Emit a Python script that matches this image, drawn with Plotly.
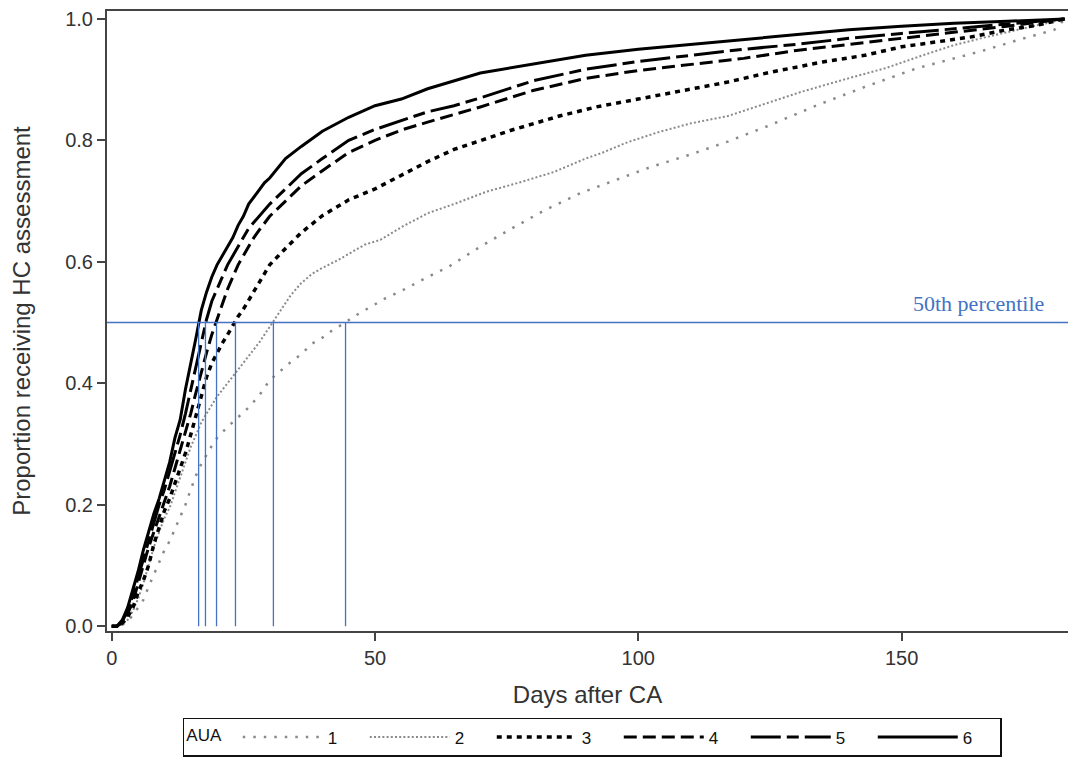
import plotly.graph_objects as go

# Cumulative proportion receiving an HC assessment, by AUA group
days_1 = [0, 1, 2, 3, 4, 5, 6, 7, 8, 9, 10, 11, 12, 13, 14, 15, 16, 17, 18, 19, 20, 22, 24, 26, 28, 30,
          32, 34, 36, 38, 40, 42, 44, 46, 49, 52, 55, 60, 64, 70, 76, 82, 89, 95, 102, 110, 117, 125,
          134, 143, 153, 160, 166, 172, 179, 181]
aua_1 = [0.0, 0.0, 0.002, 0.008, 0.018, 0.03, 0.043, 0.065, 0.085, 0.105, 0.125, 0.14, 0.16, 0.18, 0.2,
         0.225, 0.248, 0.267, 0.283, 0.297, 0.31, 0.328, 0.344, 0.36, 0.38, 0.405, 0.42, 0.435, 0.448,
         0.465, 0.475, 0.488, 0.498, 0.51, 0.525, 0.54, 0.552, 0.575, 0.592, 0.625, 0.655, 0.684, 0.713,
         0.733, 0.755, 0.777, 0.798, 0.825, 0.858, 0.888, 0.919, 0.935, 0.949, 0.965, 0.982, 1.0]

days_2 = [0, 1, 2, 3, 4, 5, 6, 7, 8, 9, 10, 11, 12, 13, 14, 15, 16, 17, 18, 19, 20, 21, 22, 23, 24, 25,
          26, 27, 28, 29, 30, 31, 32, 34, 36, 38, 40, 43, 48, 51, 55, 60, 65, 71, 78, 84, 90, 93, 98,
          104, 110, 117, 124, 131, 139, 147, 154, 160, 166, 172, 177, 181]
aua_2 = [0.0, 0.0, 0.003, 0.01, 0.025, 0.045, 0.07, 0.1, 0.13, 0.155, 0.178, 0.195, 0.22, 0.245, 0.27,
         0.295, 0.315, 0.335, 0.35, 0.365, 0.378, 0.389, 0.4, 0.411, 0.422, 0.433, 0.444, 0.455, 0.467,
         0.48, 0.493, 0.505, 0.518, 0.545, 0.565, 0.58, 0.59, 0.603, 0.628, 0.636, 0.657, 0.68, 0.695,
         0.715, 0.732, 0.748, 0.77, 0.779, 0.797, 0.814, 0.828, 0.84, 0.86, 0.88, 0.9, 0.919, 0.94,
         0.957, 0.97, 0.982, 0.992, 1.0]

days_3 = [0, 1, 2, 3, 4, 5, 6, 7, 8, 9, 10, 11, 12, 13, 14, 15, 16, 17, 18, 19, 20, 21, 22, 23, 24, 25,
          26, 27, 28, 30, 33, 36, 40, 45, 50, 55, 60, 65, 70, 76, 85, 92, 100, 110, 117, 125, 135, 143,
          150, 163, 170, 176, 181]
aua_3 = [0.0, 0.0, 0.005, 0.015, 0.03, 0.055, 0.075, 0.1, 0.135, 0.165, 0.19, 0.21, 0.235, 0.26, 0.285,
         0.315, 0.345, 0.38, 0.41, 0.433, 0.45, 0.466, 0.48, 0.495, 0.51, 0.522, 0.537, 0.552, 0.567,
         0.595, 0.622, 0.648, 0.676, 0.702, 0.72, 0.743, 0.765, 0.785, 0.8, 0.817, 0.84, 0.855, 0.868,
         0.885, 0.896, 0.912, 0.929, 0.94, 0.954, 0.97, 0.982, 0.99, 1.0]

days_4 = [0, 1, 2, 3, 4, 5, 6, 7, 8, 9, 10, 11, 12, 13, 14, 15, 16, 17, 18, 19, 20, 21, 22, 23, 24, 25,
          26, 27, 28, 30, 33, 36, 40, 45, 50, 55, 60, 65, 70, 80, 90, 100, 110, 120, 130, 140, 150,
          160, 170, 181]
aua_4 = [0.0, 0.0, 0.006, 0.02, 0.04, 0.07, 0.1, 0.13, 0.155, 0.18, 0.205, 0.23, 0.26, 0.29, 0.32,
         0.35, 0.385, 0.42, 0.45, 0.48, 0.505, 0.53, 0.555, 0.575, 0.595, 0.61, 0.625, 0.64, 0.652,
         0.675, 0.7, 0.725, 0.75, 0.78, 0.8, 0.817, 0.83, 0.842, 0.855, 0.882, 0.902, 0.915, 0.925,
         0.935, 0.948, 0.958, 0.967, 0.978, 0.988, 1.0]

days_5 = [0, 1, 2, 3, 4, 5, 6, 7, 8, 9, 10, 11, 12, 13, 14, 15, 16, 17, 18, 19, 20, 21, 22, 23, 24, 25,
          26, 27, 28, 30, 33, 36, 40, 45, 50, 55, 60, 65, 70, 80, 90, 100, 110, 120, 130, 140, 150,
          160, 170, 181]
aua_5 = [0.0, 0.0, 0.008, 0.025, 0.05, 0.08, 0.11, 0.14, 0.17, 0.2, 0.225, 0.255, 0.285, 0.315, 0.35,
         0.39, 0.43, 0.47, 0.505, 0.535, 0.555, 0.575, 0.595, 0.61, 0.625, 0.64, 0.655, 0.665, 0.675,
         0.695, 0.72, 0.745, 0.77, 0.8, 0.818, 0.833, 0.847, 0.857, 0.87, 0.898, 0.917, 0.93, 0.94,
         0.95, 0.958, 0.968, 0.976, 0.984, 0.991, 1.0]

days_6 = [0, 1, 2, 3, 4, 5, 6, 7, 8, 9, 10, 11, 12, 13, 14, 15, 16, 17, 18, 19, 20, 21, 22, 23, 24, 25,
          26, 27, 28, 29, 30, 33, 36, 40, 45, 50, 55, 60, 70, 80, 90, 100, 110, 120, 130, 140, 150,
          160, 170, 181]
aua_6 = [0.0, 0.0, 0.01, 0.03, 0.06, 0.09, 0.125, 0.155, 0.185, 0.21, 0.24, 0.27, 0.31, 0.34, 0.39,
         0.43, 0.475, 0.52, 0.55, 0.575, 0.595, 0.61, 0.625, 0.64, 0.66, 0.675, 0.695, 0.707, 0.72,
         0.73, 0.738, 0.77, 0.79, 0.815, 0.838, 0.857, 0.868, 0.885, 0.911, 0.926, 0.94, 0.95, 0.958,
         0.966, 0.975, 0.982, 0.988, 0.993, 0.996, 1.0]

group_labels = ["1", "2", "3", "4", "5", "6"]
median_days = [44.4, 30.7, 23.5, 19.9, 17.8, 16.5]
percentile_level = 0.5

x_ticks = [0, 50, 100, 150]
y_ticks = [0.0, 0.2, 0.4, 0.6, 0.8, 1.0]

series = [
    (days_1, aua_1, dict(color="#8a8a8a", width=2.5, dash="2.5px,8px")),
    (days_2, aua_2, dict(color="#8a8a8a", width=2.0, dash="2px,2.2px")),
    (days_3, aua_3, dict(color="#000000", width=3.5, dash="5px,5px")),
    (days_4, aua_4, dict(color="#000000", width=3.0, dash="13px,6px")),
    (days_5, aua_5, dict(color="#000000", width=3.0, dash="30px,6px,12px,6px")),
    (days_6, aua_6, dict(color="#000000", width=3.0)),
]

BLUE = "#4472C4"
FONT = "Arial, 'Liberation Sans', sans-serif"

fig = go.Figure()
for (d, v, line), name in zip(series, group_labels):
    fig.add_trace(go.Scatter(x=d, y=v, mode="lines", name=name, line=line))

# 50th percentile reference lines
fig.add_shape(type="line", xref="paper", yref="y", x0=0, x1=1,
              y0=percentile_level, y1=percentile_level,
              line=dict(color=BLUE, width=1.3), layer="above")
for m in median_days:
    fig.add_shape(type="line", xref="x", yref="y", x0=m, x1=m, y0=0, y1=percentile_level,
                  line=dict(color=BLUE, width=1.3), layer="above")

fig.add_annotation(x=177.5, y=percentile_level, xref="x", yref="y", text="50th percentile",
                   showarrow=False, xanchor="right", yanchor="bottom", yshift=5,
                   font=dict(family="'Times New Roman', 'Liberation Serif', serif", size=22, color=BLUE))

fig.update_layout(
    width=1068, height=761,
    margin=dict(l=107, r=0, t=11, b=130, autoexpand=False),
    paper_bgcolor="white", plot_bgcolor="white",
    font=dict(family=FONT, size=20, color="#333333"),
    showlegend=True,
    legend=dict(
        orientation="h", x=0.505, xanchor="center", y=-0.203, yanchor="bottom",
        title=dict(text="AUA  ", font=dict(size=17, color="#111111"), side="left"),
        font=dict(size=17, color="#111111"),
        bordercolor="#111111", borderwidth=1.5,
        itemwidth=80, entrywidth=32, itemclick=False, tracegroupgap=0,
    ),
    xaxis=dict(
        range=[-0.9, 181.6], tickvals=x_ticks, ticktext=[str(t) for t in x_ticks],
        showgrid=False, zeroline=False, showline=True, linecolor="#444444", linewidth=2,
        mirror=True, ticks="outside", ticklen=8, tickwidth=2, tickcolor="#444444",
        title=dict(text="Days after CA", standoff=18),
    ),
    yaxis=dict(
        range=[-0.008, 1.013], tickvals=y_ticks, ticktext=[f"{t:.1f}" for t in y_ticks],
        showgrid=False, zeroline=False, showline=True, linecolor="#444444", linewidth=2,
        ticks="outside", ticklen=8, tickwidth=2, tickcolor="#444444",
        title=dict(text="Proportion receiving HC assessment", standoff=28),
    ),
)

fig.write_html("out.html")
